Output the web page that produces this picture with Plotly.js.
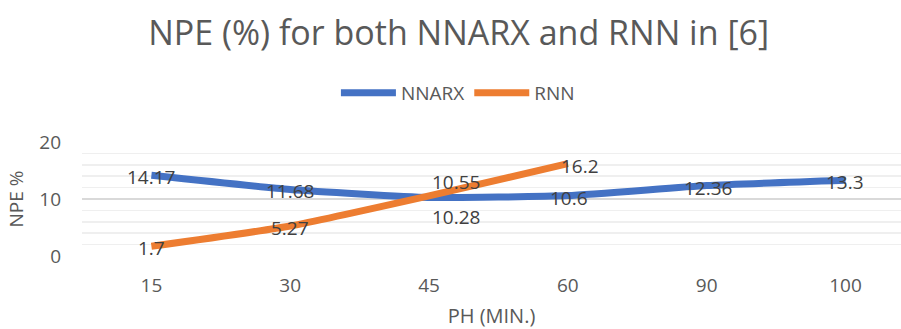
<!DOCTYPE html>
<html>
<head>
<meta charset="utf-8">
<script src="https://cdn.plot.ly/plotly-3.0.1.min.js"></script>
<style>html,body{margin:0;padding:0;background:#fff;}#chart{width:901px;height:329px;}</style>
</head>
<body>
<div id="chart"></div>
<script>
const categories = ['15', '30', '45', '60', '90', '100'];
const nnarx = [14.17, 11.68, 10.28, 10.6, 12.36, 13.3];
const rnnCategories = ['15', '30', '45', '60'];
const rnn = [1.7, 5.27, 10.55, 16.2];
const title = 'NPE (%) for both NNARX and RNN in [6]';
const xTitle = 'PH (MIN.)';
const yTitle = 'NPE %';

// label placement styling (pixel shifts), kept separate from data
const nnarxShift = [[0, -2], [0, -2], [27, -20], [1, -2], [1, -2], [0, -2]];
const rnnShift = [[0, -2], [0, -2], [27, 14], [12, -2]];

const FONT = 'Open Sans, Noto Sans, sans-serif';
const gray = '#595959';

const traces = [
  {x: categories, y: nnarx, name: 'NNARX', type: 'scatter', mode: 'lines',
   line: {color: '#4472C4', width: 7, shape: 'spline', smoothing: 0.5}},
  {x: rnnCategories, y: rnn, name: 'RNN', type: 'scatter', mode: 'lines',
   line: {color: '#ED7D31', width: 7, shape: 'spline', smoothing: 0.5}}
];

const annotations = [];
function addLabels(xs, ys, shifts) {
  xs.forEach((c, i) => {
    annotations.push({x: categories.indexOf(c), y: ys[i], xref: 'x', yref: 'y', text: String(ys[i]),
      showarrow: false, xanchor: 'center', yanchor: 'middle',
      xshift: shifts[i][0], yshift: shifts[i][1],
      font: {family: FONT, size: 19, color: '#404040'}});
  });
}
addLabels(categories, nnarx, nnarxShift);
addLabels(rnnCategories, rnn, rnnShift);

const layout = {
  width: 901, height: 329,
  margin: {l: 82, r: 0, t: 142, b: 73},
  paper_bgcolor: '#fff', plot_bgcolor: '#fff',
  font: {family: FONT, color: gray},
  title: {text: title, x: 0.509, xanchor: 'center', y: 0.9, yanchor: 'middle',
    font: {family: FONT, size: 34, color: gray}},
  showlegend: true,
  legend: {orientation: 'h', x: 0.459, xanchor: 'center', y: 1.43, yanchor: 'middle',
    font: {family: FONT, size: 19, color: gray}, itemwidth: 55, traceorder: 'normal'},
  xaxis: {type: 'category', range: [-0.5, 5.4], showgrid: false, zeroline: false,
    showline: false, ticks: '', tickfont: {family: FONT, size: 19, color: gray},
    ticklabelstandoff: 16,
    title: {text: xTitle, font: {family: FONT, size: 20, color: gray}, standoff: 16}},
  yaxis: {range: [0, 20], dtick: 10, showgrid: true, gridcolor: '#d9d9d9', gridwidth: 1.5,
    zeroline: false, showline: false, ticks: '',
    tickfont: {family: FONT, size: 19, color: gray}, ticklabelstandoff: 20,
    minor: {dtick: 2, showgrid: true, gridcolor: '#efefef', gridwidth: 1.5},
    title: {text: yTitle, font: {family: FONT, size: 19, color: gray}, standoff: 10}},
  annotations: annotations
};

Plotly.newPlot('chart', traces, layout, {displayModeBar: false, staticPlot: true});
</script>
</body>
</html>
